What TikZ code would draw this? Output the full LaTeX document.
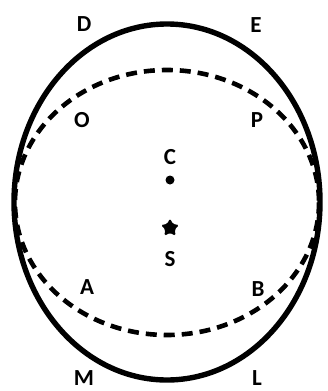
\documentclass[tikz,border=0pt]{standalone}
\usepackage{fontspec}
\setmainfont{Carlito}
\usetikzlibrary{shapes.geometric}

\begin{document}
\begin{tikzpicture}[x=1pt,y=-1pt,
  lbl/.style={font=\fontsize{23}{23}\selectfont\bfseries,inner sep=0pt},
  orbit/.style={line width=5.4pt},
  dashorbit/.style={line width=4.6pt,dash pattern=on 11pt off 7pt}]
\useasboundingbox (0,0) rectangle (327,391);
\draw[orbit] (167,202) ellipse [x radius=153,y radius=178];
\draw[dashorbit] (167,202.5) ellipse [x radius=152,y radius=132.5];
\node[circle,fill,inner sep=0pt,minimum size=9pt] (dotC) at (170,180) {};
\node[star,star points=5,star point ratio=1.9,fill,inner sep=0pt,minimum size=19pt,rounded corners=1.5pt] (starS) at (170,228) {};
\node[lbl] (labD) at (84,24) {D};
\node[lbl] (labE) at (256,25) {E};
\node[lbl] (labO) at (82,120) {O};
\node[lbl] (labP) at (257,120) {P};
\node[lbl] (labC) at (170,157) {C};
\node[lbl] (labS) at (170,259) {S};
\node[lbl] (labA) at (87,287) {A};
\node[lbl] (labB) at (258,289) {B};
\node[lbl] (labM) at (84,378) {M};
\node[lbl] (labL) at (257,378) {L};
\end{tikzpicture}
\end{document}
